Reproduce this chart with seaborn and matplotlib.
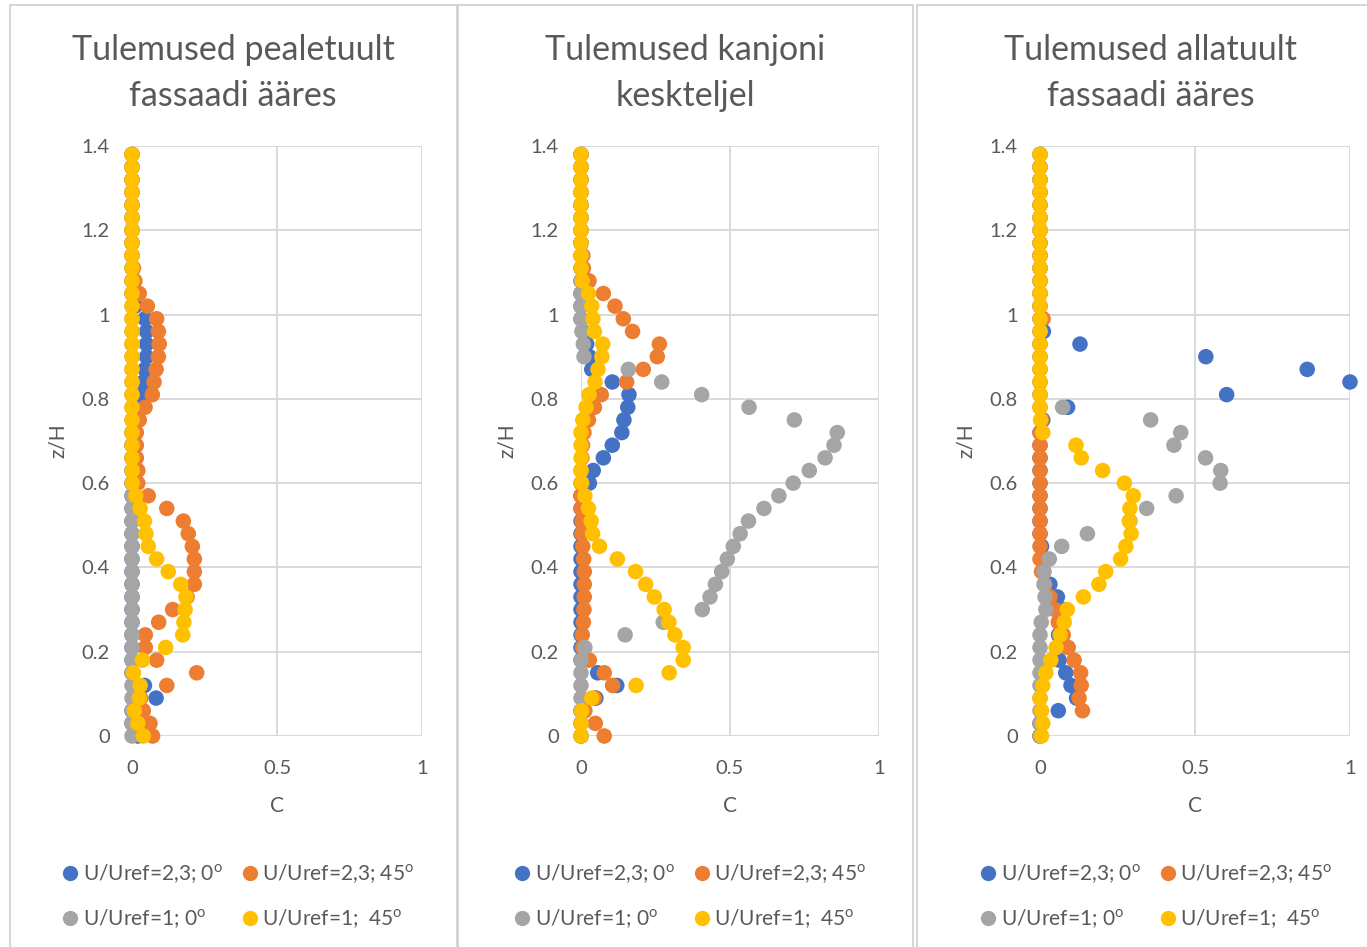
import numpy as np
import pandas as pd
import matplotlib
matplotlib.use("Agg")
import matplotlib.pyplot as plt
import seaborn as sns
from matplotlib.patches import Rectangle
from matplotlib.lines import Line2D

# Measurement heights z/H (bottom to top)
z_levels = [0.00, 0.03, 0.06, 0.09, 0.12, 0.15, 0.18, 0.21, 0.24, 0.27,
            0.30, 0.33, 0.36, 0.39, 0.42, 0.45, 0.48, 0.51, 0.54, 0.57,
            0.60, 0.63, 0.66, 0.69, 0.72, 0.75, 0.78, 0.81, 0.84, 0.87,
            0.90, 0.93, 0.96, 0.99, 1.02, 1.05, 1.08, 1.11, 1.14, 1.17,
            1.20, 1.23, 1.26, 1.29, 1.32, 1.35, 1.38]

titles = ["Tulemused pealetuult\nfassaadi ääres",
          "Tulemused kanjoni\nkeskteljel",
          "Tulemused allatuult\nfassaadi ääres"]

series_labels = [r"U/Uref=2,3; $\mathrm{0}^{\mathrm{o}}$",
                 r"U/Uref=2,3; $\mathrm{45}^{\mathrm{o}}$",
                 r"U/Uref=1; $\mathrm{0}^{\mathrm{o}}$",
                 r"U/Uref=1;  $\mathrm{45}^{\mathrm{o}}$"]
series_colors = ["#4472C4", "#ED7D31", "#A5A5A5", "#FFC000"]

# --- Windward facade ---
c1_u23_0 = [0.02, 0, 0, 0.083, 0.043, 0, 0, 0, 0, 0,
            0, 0, 0, 0, 0, 0, 0, 0, 0, 0,
            0, 0, 0, 0, 0, 0.01, 0.02, 0.035, 0.04, 0.045,
            0.05, 0.05, 0.05, 0.045, 0.01, 0, 0, 0, 0, 0,
            0, 0, 0, 0, 0, 0, 0]
c1_u23_45 = [0.071, 0.062, 0.039, 0.03, 0.12, 0.223, 0.085, 0.046, 0.046, 0.092,
             0.14, 0.19, 0.215, 0.215, 0.215, 0.208, 0.194, 0.177, 0.12, 0.056,
             0.02, 0.02, 0.015, 0.015, 0.015, 0.025, 0.045, 0.07, 0.076, 0.083,
             0.091, 0.094, 0.091, 0.085, 0.053, 0.025, 0.01, 0.005, 0, 0,
             0, 0, 0, 0, 0, 0, 0]
c1_u1_0 = [0] * 47
c1_u1_45 = [0.039, 0.02, 0.008, 0.025, 0.028, 0.005, 0.036, 0.116, 0.175, 0.179,
            0.183, 0.186, 0.168, 0.125, 0.085, 0.056, 0.048, 0.043, 0.028, 0.013,
            0.001, 0.001, 0, 0, 0, 0, 0, 0, 0, 0,
            0, 0, 0, 0, 0, 0, 0, 0, 0, 0,
            0, 0, 0, 0, 0, 0, 0]

# --- Canyon centreline ---
c2_u23_0 = [0, 0, 0, 0.05, 0.12, 0.056, 0, 0, 0, 0,
            0, 0, 0, 0, 0, 0, 0, 0, 0, 0,
            0.028, 0.041, 0.075, 0.105, 0.137, 0.144, 0.157, 0.161, 0.105, 0.036,
            0.028, 0.019, 0.006, 0, 0, 0, 0, 0, 0, 0,
            0, 0, 0, 0, 0, 0, 0]
c2_u23_45 = [0.078, 0.048, 0.013, 0.045, 0.106, 0.078, 0.028, 0.005, 0.004, 0.008,
             0.01, 0.011, 0.011, 0.011, 0.009, 0.006, 0.003, 0.003, 0, 0,
             0, 0, 0.003, 0.005, 0.01, 0.025, 0.045, 0.068, 0.153, 0.209,
             0.256, 0.263, 0.173, 0.142, 0.114, 0.075, 0.027, 0.008, 0.006, 0,
             0, 0, 0, 0, 0, 0, 0]
c2_u1_0 = [0, 0, 0, 0, 0, 0, 0, 0.013, 0.148, 0.276,
           0.407, 0.433, 0.451, 0.472, 0.491, 0.511, 0.534, 0.562, 0.614, 0.664,
           0.712, 0.766, 0.819, 0.849, 0.86, 0.716, 0.564, 0.405, 0.271, 0.159,
           0.01, 0.008, 0.003, 0, 0, 0, 0, 0, 0, 0,
           0, 0, 0, 0, 0, 0, 0]
c2_u1_45 = [0, 0, 0.002, 0.036, 0.185, 0.296, 0.343, 0.343, 0.315, 0.295,
            0.279, 0.246, 0.217, 0.183, 0.122, 0.062, 0.039, 0.034, 0.025, 0.013,
            0.002, 0, 0, 0, 0, 0.006, 0.017, 0.027, 0.047, 0.057,
            0.07, 0.073, 0.045, 0.04, 0.036, 0.025, 0.004, 0, 0, 0,
            0, 0, 0, 0, 0, 0, 0]

# --- Leeward facade ---
c3_u23_0 = [0, 0, 0.059, 0.118, 0.1, 0.083, 0.062, 0.055, 0.06, 0.07,
            0.075, 0.056, 0.032, 0.01, 0.005, 0.005, 0, 0, 0, 0,
            0, 0, 0, 0, 0, 0.009, 0.089, 0.602, 1.0, 0.862,
            0.535, 0.129, 0.011, 0, 0, 0, 0, 0, 0, 0,
            0, 0, 0, 0, 0, 0, 0]
c3_u23_45 = [0, 0, 0.137, 0.126, 0.133, 0.131, 0.11, 0.091, 0.075, 0.059,
             0.048, 0.032, 0.015, 0.005, 0, 0, 0, 0, 0, 0,
             0, 0, 0, 0, 0, 0.005, 0, 0, 0, 0,
             0, 0, 0, 0.01, 0, 0, 0, 0, 0, 0,
             0, 0, 0, 0, 0, 0, 0]
c3_u1_0 = [0, 0, 0, 0, 0, 0, 0, 0, 0, 0.004,
           0.019, 0.016, 0.013, 0.013, 0.03, 0.07, 0.153, 0.29, 0.344, 0.439,
           0.581, 0.583, 0.534, 0.432, 0.454, 0.357, 0.073, 0, 0, 0,
           0, 0, 0, 0, 0, 0, 0, 0, 0, 0,
           0, 0, 0, 0, 0, 0, 0]
c3_u1_45 = [0.005, 0.009, 0.005, 0, 0.009, 0.019, 0.035, 0.052, 0.065, 0.078,
            0.088, 0.14, 0.19, 0.212, 0.26, 0.277, 0.294, 0.288, 0.29, 0.301,
            0.272, 0.202, 0.133, 0.116, 0.009, 0.002, 0, 0, 0, 0,
            0, 0, 0, 0, 0, 0, 0, 0, 0, 0,
            0, 0, 0, 0, 0, 0, 0]

panels = [
    [c1_u23_0, c1_u23_45, c1_u1_0, c1_u1_45],
    [c2_u23_0, c2_u23_45, c2_u1_0, c2_u1_45],
    [c3_u23_0, c3_u23_45, c3_u1_0, c3_u1_45],
]

x_ticks = [0, 0.5, 1]
x_tick_labels = ["0", "0.5", "1"]
y_ticks = [0, 0.2, 0.4, 0.6, 0.8, 1.0, 1.2, 1.4]
y_tick_labels = ["0", "0.2", "0.4", "0.6", "0.8", "1", "1.2", "1.4"]

sns.set_theme(style="white")
plt.rcParams["font.family"] = ["Lato", "DejaVu Sans"]
plt.rcParams["mathtext.fontset"] = "custom"
plt.rcParams["mathtext.rm"] = "Lato"
plt.rcParams["mathtext.it"] = "Lato:italic"
plt.rcParams["mathtext.bf"] = "Lato:bold"

W, H = 1367, 947
fig = plt.figure(figsize=(W / 100, H / 100), dpi=100)
fig.patch.set_facecolor("white")

TXT = "#595959"
GRID = "#d9d9d9"


def fx(px):
    return px / W


def fy(py):
    return 1 - py / H


# chart frames
for (x0, x1) in [(10, 457), (458, 913), (917, 1380)]:
    fig.add_artist(Rectangle((fx(x0), fy(960)), fx(x1 - x0), (960 - 5) / H,
                             transform=fig.transFigure, fill=False,
                             ec="#cfcfcf", lw=1.2))

# plot-area pixel extents (left, right) and chart centres
areas = [(132, 422), (581, 879), (1040, 1350)]
centres = [233, 685, 1151]
top_px, bot_px = 146, 736

for k, (series, (l, r), cx) in enumerate(zip(panels, areas, centres)):
    ax = fig.add_axes([fx(l), fy(bot_px), fx(r - l), (bot_px - top_px) / H])
    frames = []
    for lab, vals in zip(series_labels, series):
        frames.append(pd.DataFrame({"C": vals, "z": z_levels, "series": lab}))
    df = pd.concat(frames, ignore_index=True)
    sns.scatterplot(data=df, x="C", y="z", hue="series",
                    hue_order=series_labels, palette=series_colors,
                    s=125, linewidth=0, alpha=1, ax=ax, legend=False,
                    clip_on=False, zorder=3)
    ax.set_xlim(0, 1)
    ax.set_ylim(0, 1.4)
    ax.set_xticks(x_ticks)
    ax.set_xticklabels(x_tick_labels)
    ax.set_yticks(y_ticks)
    ax.set_yticklabels(y_tick_labels)
    ax.grid(True, color=GRID, lw=1.4, zorder=0)
    ax.set_axisbelow(True)
    for sp in ax.spines.values():
        sp.set_visible(False)
    ax.tick_params(axis="both", length=0, colors=TXT, labelsize=14.5)
    ax.tick_params(axis="x", pad=17)
    ax.tick_params(axis="y", pad=16)
    ax.set_xlabel("C", color=TXT, fontsize=15, labelpad=14)
    ax.set_ylabel("z/H", color=TXT, fontsize=15, labelpad=10)

    fig.text(fx(cx), fy(73), titles[k], ha="center", va="center",
             fontsize=24.5, color=TXT, linespacing=1.55)

    handles = [Line2D([], [], ls="", marker="o", ms=11, mec="none",
                      mfc=c) for c in series_colors]
    order = [0, 2, 1, 3]
    ax.legend([handles[i] for i in order], [series_labels[i] for i in order],
              ncol=2, loc="center", bbox_to_anchor=(fx(cx + 4), fy(896)),
              bbox_transform=fig.transFigure, frameon=False,
              fontsize=15, labelcolor=TXT, handletextpad=0.1,
              handlelength=1.0, columnspacing=0.8, labelspacing=1.05)

fig.savefig("out.png", dpi=100, facecolor="white")
